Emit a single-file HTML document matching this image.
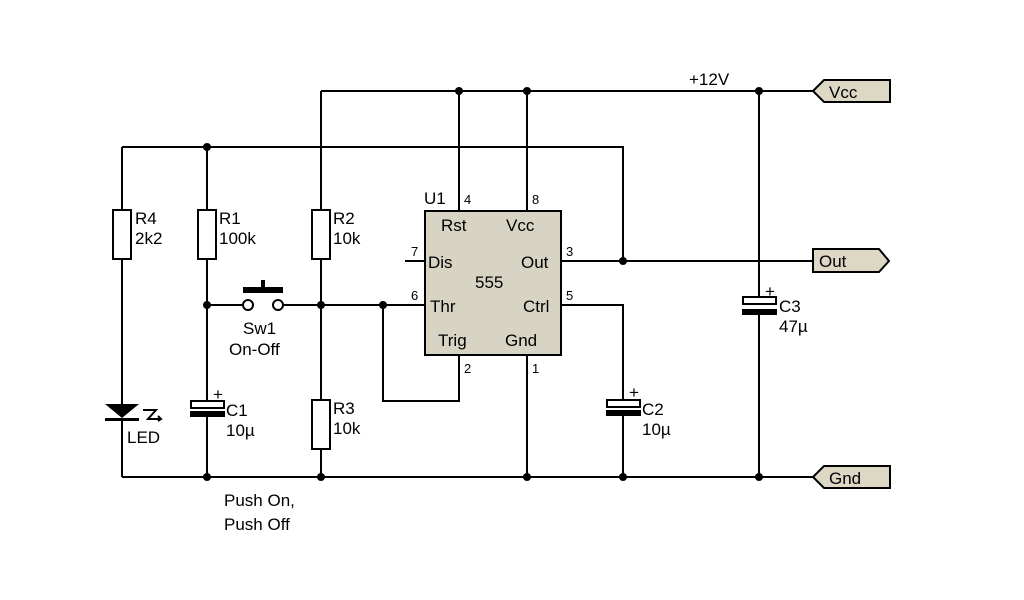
<!DOCTYPE html>
<html><head><meta charset="utf-8"><style>
html,body{margin:0;padding:0;background:#fff;}
svg{display:block;}
text{font-family:"Liberation Sans",sans-serif;font-size:17px;fill:#000;}
.s{font-size:13px;}
</style></head><body>
<svg width="1024" height="600" viewBox="0 0 1024 600" xmlns="http://www.w3.org/2000/svg">
<g stroke="#000" stroke-width="2" fill="none">
<path d="M321 91H813"/>
<path d="M321 91V210M321 259V400M321 449V477"/>
<path d="M459 91V211M527 91V211"/>
<path d="M122 147H623V261"/>
<path d="M122 147V210M122 259V404M122 418V477"/>
<path d="M207 147V210M207 259V402M207 414V477"/>
<path d="M122 477H813"/>
<path d="M527 355V477"/>
<path d="M561 261H813"/>
<path d="M405 261H425"/>
<path d="M207 305H243M283 305H425"/>
<path d="M383 305V401H459V355"/>
<path d="M561 305H623V402M623 414V477"/>
<path d="M759 91V298M759 312V477"/>
</g>
<rect x="425" y="211" width="136" height="144" fill="#d8d4c4" stroke="#000" stroke-width="2"/>
<g fill="#fff" stroke="#000" stroke-width="2">
<rect x="113" y="210" width="18" height="49"/>
<rect x="198" y="210" width="18" height="49"/>
<rect x="312" y="210" width="18" height="49"/>
<rect x="312" y="400" width="18" height="49"/>
<rect x="191" y="401" width="33" height="7"/>
<rect x="607" y="400" width="33" height="7"/>
<rect x="743" y="297" width="33" height="7"/>
<circle cx="248" cy="305" r="5"/>
<circle cx="278" cy="305" r="5"/>
</g>
<g fill="#000">
<rect x="190" y="411" width="35" height="6"/>
<rect x="606" y="410" width="35" height="6"/>
<rect x="742" y="309" width="35" height="6"/>
<rect x="243" y="287" width="40" height="6"/>
<rect x="261" y="280" width="4" height="9"/>
<polygon points="105,404 139,404 122,418"/>
<rect x="105" y="418" width="34" height="3"/>
<circle cx="459" cy="91" r="4"/><circle cx="527" cy="91" r="4"/><circle cx="759" cy="91" r="4"/>
<circle cx="207" cy="147" r="4"/><circle cx="623" cy="261" r="4"/>
<circle cx="207" cy="305" r="4"/><circle cx="321" cy="305" r="4"/><circle cx="383" cy="305" r="4"/>
<circle cx="207" cy="477" r="4"/><circle cx="321" cy="477" r="4"/><circle cx="527" cy="477" r="4"/>
<circle cx="623" cy="477" r="4"/><circle cx="759" cy="477" r="4"/>
</g>
<g stroke="#000" stroke-width="2" fill="none">
<path d="M143 410H156L148 419H161"/>
<path d="M158 416L161 419L158 421"/>
</g>
<g class="s">
<text x="213" y="400">+</text>
<text x="629" y="398">+</text>
<text x="765" y="297">+</text>
</g>
<g fill="#dcd8c4" stroke="#000" stroke-width="2">
<polygon points="813,91 824,80 890,80 890,102 824,102"/>
<polygon points="813,249 879,249 889,261 879,272 813,272"/>
<polygon points="813,477 824,466 890,466 890,488 824,488"/>
</g>
<text x="829" y="98">Vcc</text>
<text x="819" y="267">Out</text>
<text x="829" y="484">Gnd</text>
<text x="689" y="85">+12V</text>
<text x="424" y="204">U1</text>
<text class="s" x="464" y="204">4</text>
<text class="s" x="532" y="204">8</text>
<text class="s" x="411" y="256">7</text>
<text class="s" x="411" y="300">6</text>
<text class="s" x="566" y="256">3</text>
<text class="s" x="566" y="300">5</text>
<text class="s" x="464" y="373">2</text>
<text class="s" x="532" y="373">1</text>
<text x="441" y="231">Rst</text>
<text x="506" y="231">Vcc</text>
<text x="428" y="268">Dis</text>
<text x="521" y="268">Out</text>
<text x="475" y="288">555</text>
<text x="430" y="312">Thr</text>
<text x="523" y="312">Ctrl</text>
<text x="438" y="346">Trig</text>
<text x="505" y="346">Gnd</text>
<text x="135" y="224">R4</text><text x="135" y="244">2k2</text>
<text x="219" y="224">R1</text><text x="219" y="244">100k</text>
<text x="333" y="224">R2</text><text x="333" y="244">10k</text>
<text x="333" y="414">R3</text><text x="333" y="434">10k</text>
<text x="226" y="416">C1</text><text x="226" y="436">10µ</text>
<text x="642" y="415">C2</text><text x="642" y="435">10µ</text>
<text x="779" y="312">C3</text><text x="779" y="332">47µ</text>
<text x="127" y="443">LED</text>
<text x="243" y="334">Sw1</text><text x="229" y="355">On-Off</text>
<text x="224" y="506">Push On,</text><text x="224" y="530">Push Off</text>
</svg>
</body></html>
